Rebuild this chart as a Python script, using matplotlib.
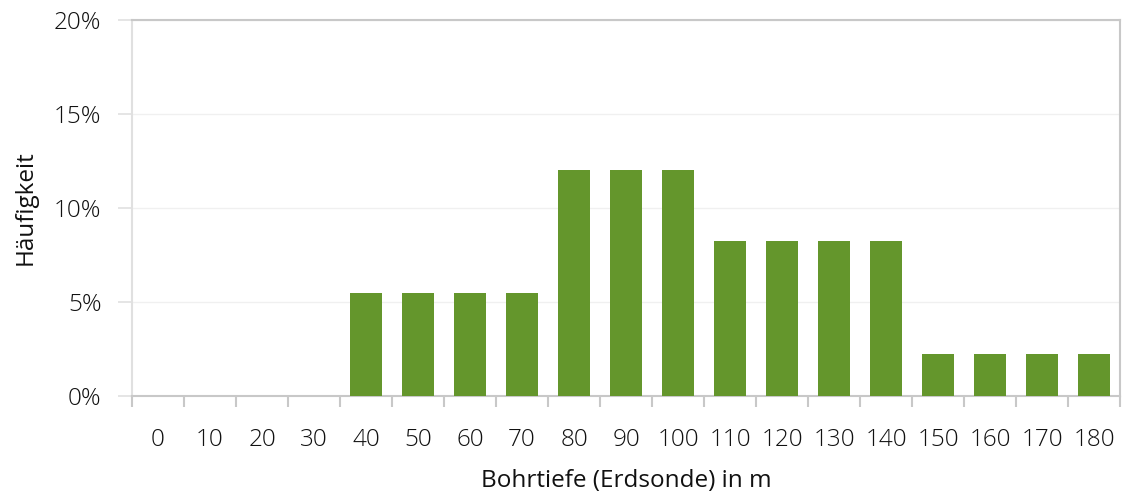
import matplotlib
matplotlib.use("Agg")
import matplotlib.pyplot as plt
import numpy as np
from matplotlib.ticker import FixedLocator, FuncFormatter

categories = ["0", "10", "20", "30", "40", "50", "60", "70", "80", "90", "100",
              "110", "120", "130", "140", "150", "160", "170", "180"]
values = [0, 0, 0, 0, 5.5, 5.5, 5.5, 5.5, 12, 12, 12,
          8.25, 8.25, 8.25, 8.25, 2.25, 2.25, 2.25, 2.25]
y_ticks = [0, 5, 10, 15, 20]

plt.rcParams['font.family'] = ['Open Sans', 'DejaVu Sans']
plt.rcParams['font.weight'] = 'light'
FS = 17.5

fig = plt.figure(figsize=(11.22, 4.95), dpi=100)
ax = fig.add_axes([132/1122, 99/495, (1120-132)/1122, (396-20)/495])

x = np.arange(len(categories))
ax.bar(x, values, width=0.6, color="#64962c", zorder=3)

ax.set_xlim(-0.5, len(categories) - 0.5)
ax.set_ylim(0, 20)

ax.set_xticks(x)
ax.set_xticklabels(categories)
ax.xaxis.set_minor_locator(FixedLocator(np.arange(-0.5, len(categories), 1.0)))
ax.tick_params(axis='x', which='major', length=0, pad=23, labelsize=FS, colors="#111111")
ax.tick_params(axis='x', which='minor', length=8, width=1.5, color="#c8c8c8")

ax.set_yticks(y_ticks)
ax.yaxis.set_major_formatter(FuncFormatter(lambda v, p: f"{int(v)}%"))
ax.tick_params(axis='y', which='major', length=10, width=1.2, color="#e0e0e0", pad=12,
               labelsize=FS, labelcolor="#111111")

ax.grid(axis='y', color="#f0f0f0", linewidth=1, zorder=0)

for side in ['top', 'right', 'bottom']:
    ax.spines[side].set_color("#c8c8c8")
    ax.spines[side].set_linewidth(1.5)
ax.spines['left'].set_color("#e0e0e0")
ax.spines['left'].set_linewidth(1.5)

ax.set_xlabel("Bohrtiefe (Erdsonde) in m", fontsize=FS, color="#111111", labelpad=12)
ax.set_ylabel("Häufigkeit", fontsize=FS, color="#111111", labelpad=12)

fig.savefig("out.png", dpi=100)
